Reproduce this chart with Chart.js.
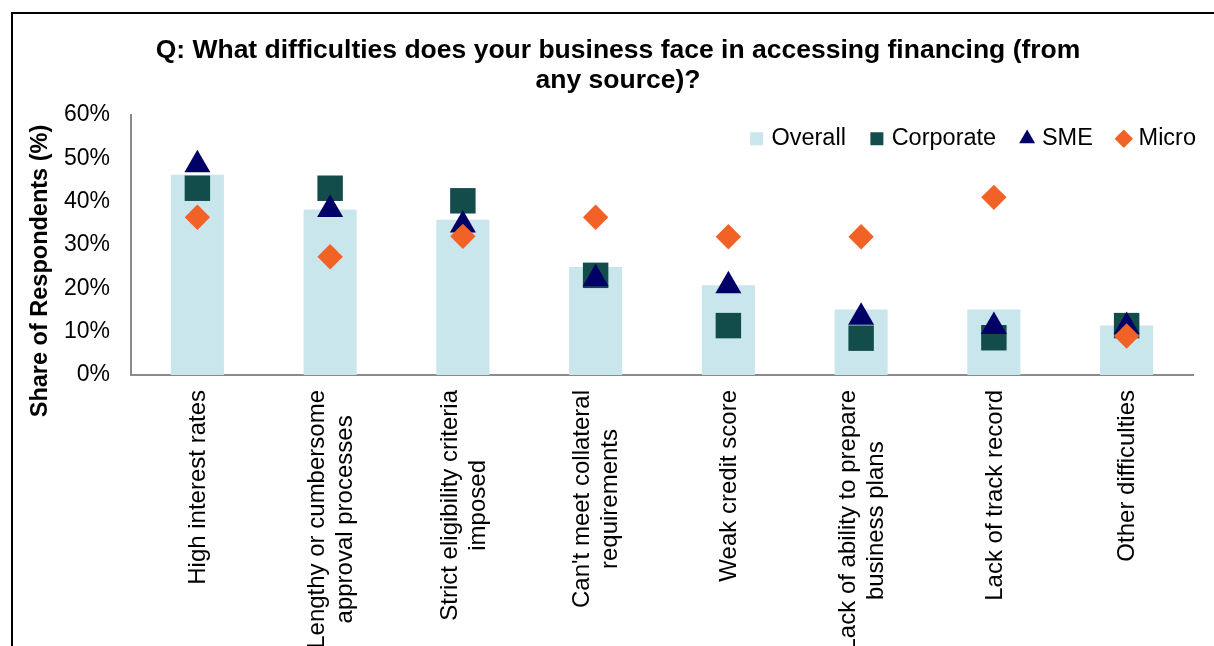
<!DOCTYPE html>
<html>
<head>
<meta charset="utf-8">
<script src="https://cdn.jsdelivr.net/npm/chart.js@4.4.1/dist/chart.umd.min.js"></script>
<style>
  html, body { margin: 0; padding: 0; background: #fff; overflow: hidden; }
  #wrap { position: absolute; left: 0; top: 0; width: 1214px; height: 646px; }
  #frame {
    position: absolute; left: 11px; top: 12px; width: 1400px; height: 900px;
    border-left: 2px solid #000; border-top: 2px solid #000; pointer-events: none;
  }
</style>
</head>
<body>
<div id="wrap"><canvas id="chart" width="1214" height="646"></canvas></div>
<div id="frame"></div>
<script>
// Data (share of respondents, %)
const categories = [
  'High interest rates',
  ['Lengthy or cumbersome', 'approval processes'],
  ['Strict eligibility criteria', 'imposed'],
  ["Can't meet collateral", 'requirements'],
  'Weak credit score',
  ['Lack of ability to prepare', 'business plans'],
  'Lack of track record',
  'Other difficulties'
]
const overall = [46.2, 38.2, 35.8, 24.9, 20.7, 15.1, 15.1, 11.4]
const corporate = [43.1, 43.1, 40.2, 23.0, 11.4, 8.5, 8.6, 11.4]
const sme = [48.5, 38.2, 34.6, 22.2, 20.6, 13.3, 11.2, 11.2]
const micro = [36.4, 27.3, 32.0, 36.4, 31.9, 31.9, 41.0, 9.0]
const yTicks = [0, 10, 20, 30, 40, 50, 60]

const FONT = "'Liberation Sans', Arial, sans-serif"
const AXIS_GREY = '#8a8a8a'

// Place the legend inside the plot at the top right, like the original
const legendMover = {
  id: 'legendMover',
  afterLayout(chart) {
    const lg = chart.legend
    if (!lg) return
    const h = lg.height
    lg.right = 1224
    lg.left = lg.right - lg.width
    lg.top = 99
    lg.bottom = lg.top + h
  }
}

// Rotated category labels (centred lines) and the y axis title
const axisText = {
  id: 'axisText',
  afterDraw(chart) {
    const ctx = chart.ctx
    const xs = chart.scales.x
    const area = chart.chartArea
    ctx.save()
    ctx.fillStyle = '#000'
    ctx.font = `24px ${FONT}`
    ctx.textAlign = 'center'
    ctx.textBaseline = 'middle'
    const lineH = 28
    categories.forEach((lab, i) => {
      const lines = Array.isArray(lab) ? lab : [lab]
      const maxW = Math.max(...lines.map(l => ctx.measureText(l).width))
      const x = xs.getPixelForValue(i)
      ctx.save()
      ctx.translate(x + 1, area.bottom + 15)
      ctx.rotate(-Math.PI / 2)
      lines.forEach((l, k) => {
        ctx.fillText(l, -maxW / 2, (k - (lines.length - 1) / 2) * lineH)
      })
      ctx.restore()
    })
    ctx.font = `bold 23.5px ${FONT}`
    ctx.translate(41, 271)
    ctx.rotate(-Math.PI / 2)
    ctx.fillText('Share of Respondents (%)', 0, 0)
    ctx.restore()
  }
}

new Chart(document.getElementById('chart'), {
  type: 'bar',
  data: {
    labels: categories,
    datasets: [
      {
        label: 'Overall',
        data: overall,
        backgroundColor: '#c9e6ec',
        barPercentage: 0.4,
        categoryPercentage: 1.0,
        pointStyle: 'rect',
        order: 4
      },
      {
        type: 'line',
        label: 'Corporate',
        data: corporate,
        showLine: false,
        pointStyle: 'rect',
        pointRadius: 18,
        pointBackgroundColor: '#124c4b',
        pointBorderColor: '#124c4b',
        backgroundColor: '#124c4b',
        borderColor: '#124c4b',
        pointBorderWidth: 0,
        order: 3
      },
      {
        type: 'line',
        label: 'SME',
        data: sme,
        showLine: false,
        pointStyle: 'triangle',
        pointRadius: 15,
        pointBackgroundColor: '#000066',
        pointBorderColor: '#000066',
        backgroundColor: '#000066',
        borderColor: '#000066',
        pointBorderWidth: 0,
        order: 2
      },
      {
        type: 'line',
        label: 'Micro',
        data: micro,
        showLine: false,
        pointStyle: 'rectRot',
        pointRadius: 12.7,
        pointBackgroundColor: '#f26125',
        pointBorderColor: '#f26125',
        backgroundColor: '#f26125',
        borderColor: '#f26125',
        pointBorderWidth: 0,
        order: 1
      }
    ]
  },
  options: {
    responsive: false,
    animation: false,
    events: [],
    layout: { padding: { left: 43, right: 21, top: 0, bottom: 0 } },
    plugins: {
      title: {
        display: true,
        text: ['Q: What difficulties does your business face in accessing financing (from', 'any source)?'],
        color: '#000',
        font: { family: FONT, size: 26.5, weight: 'bold', lineHeight: 30 / 26.5 },
        padding: { top: 36, bottom: 19 }
      },
      legend: {
        position: 'bottom',
        align: 'end',
        labels: {
          usePointStyle: true,
          boxWidth: 6,
          boxHeight: 13,
          padding: 28,
          color: '#000',
          font: { family: FONT, size: 23.5 },
          sort: (a, b) => a.datasetIndex - b.datasetIndex
        }
      },
      tooltip: { enabled: false }
    },
    scales: {
      x: {
        grid: { display: false, drawTicks: false },
        border: { display: true, color: AXIS_GREY, width: 2 },
        ticks: { display: false },
        afterFit: s => { s.height = 209.5 }
      },
      y: {
        min: 0,
        max: 60,
        afterBuildTicks: s => { s.ticks = yTicks.map(v => ({ value: v })) },
        grid: { display: false, drawTicks: false },
        border: { display: true, color: AXIS_GREY, width: 2 },
        ticks: {
          padding: 21,
          color: '#000',
          font: { family: FONT, size: 23 },
          callback: v => v + '%'
        },
        afterFit: s => { s.width = 88 }
      }
    }
  },
  plugins: [legendMover, axisText]
})
</script>
</body>
</html>
